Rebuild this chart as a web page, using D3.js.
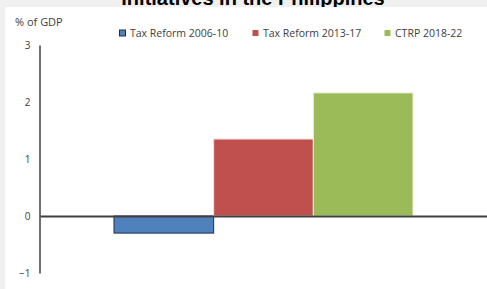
<!DOCTYPE html>
<html><head><meta charset="utf-8">
<script src="https://cdn.jsdelivr.net/npm/d3@7"></script>
<style>html,body{margin:0;padding:0;background:#f0f0f0;overflow:hidden}svg{display:block}</style>
</head><body>
<script>
const title = "Initiatives in the Philippines";
const yLabel = "% of GDP";
const categories = [""];
const seriesNames = ["Tax Reform 2006-10", "Tax Reform 2013-17", "CTRP 2018-22"];
const seriesValues = [-0.3, 1.35, 2.16];
const seriesColors = ["#4f81bd", "#c0504d", "#9bbb59"];
const seriesStrokes = ["#1f2f45", "#f2dcdb", "#ebf1de"];
const yTicks = [-1, 0, 1, 2, 3];

const W = 487, H = 289;
const svg = d3.select("body").append("svg").attr("width", W).attr("height", H);
svg.append("rect").attr("width", W).attr("height", H).attr("fill", "#f0f0f0");
svg.append("text").attr("x", 253).attr("y", 5).attr("text-anchor", "middle")
  .attr("font-family", "Liberation Sans, Arial, sans-serif").attr("font-weight", "bold")
  .attr("font-size", 20).attr("fill", "#000").text(title);
svg.append("rect").attr("x", 5).attr("y", 7).attr("width", W - 5).attr("height", H - 7).attr("fill", "#fff");

const plot = {left: 40, right: 487, top: 45, bottom: 273};
const y = d3.scaleLinear().domain([-1, 3]).range([plot.bottom, plot.top]);
const x0 = d3.scaleBand().domain(categories).range([plot.left, plot.right]).paddingInner(0).paddingOuter(0.2475);
const x1 = d3.scaleBand().domain(seriesNames).range([0, x0.bandwidth()]).padding(0);

const font = "Open Sans, Liberation Sans, sans-serif";
svg.append("text").attr("x", 15).attr("y", 26).attr("font-family", font).attr("font-size", 11)
  .attr("fill", "#404040").text(yLabel);

// bars
const g = svg.append("g");
categories.forEach(c => {
  seriesNames.forEach((s, i) => {
    const v = seriesValues[i];
    g.append("rect")
      .attr("x", x0(c) + x1(s)).attr("width", x1.bandwidth())
      .attr("y", y(Math.max(0, v))).attr("height", Math.abs(y(v) - y(0)))
      .attr("fill", seriesColors[i]).attr("stroke", seriesStrokes[i]).attr("stroke-width", 1);
  });
});

// y axis
const yAxis = d3.axisLeft(y).tickValues(yTicks).tickSizeInner(0).tickSizeOuter(0).tickPadding(9).tickFormat(d3.format("d"));
const ya = svg.append("g").attr("transform", `translate(${plot.left - 0.5},0)`).call(yAxis);
ya.select(".domain").attr("stroke", "#404040").attr("stroke-width", 1.5);
ya.selectAll("text").attr("font-family", font).attr("font-size", 10).attr("fill", "#404040");

// zero line
const xAxis = d3.axisBottom(x0).tickSizeInner(0).tickSizeOuter(0).tickFormat("");
const xa = svg.append("g").attr("transform", `translate(0,${y(0)})`).call(xAxis);
xa.select(".domain").attr("stroke", "#404040").attr("stroke-width", 1.8);
xa.selectAll(".tick line").remove();

// legend
const legendX = [119, 252, 384];
const lg = svg.append("g");
seriesNames.forEach((s, i) => {
  const gi = lg.append("g").attr("transform", `translate(${legendX[i]},33)`);
  gi.append("rect").attr("x", 0.5).attr("y", -3).attr("width", 6).attr("height", 6)
    .attr("fill", seriesColors[i]).attr("stroke", i === 0 ? "#1f2f45" : "none");
  gi.append("text").attr("x", 11).attr("y", 3.8).attr("font-family", font).attr("font-size", 10.5)
    .attr("fill", "#404040").text(s);
});
</script>
</body></html>
